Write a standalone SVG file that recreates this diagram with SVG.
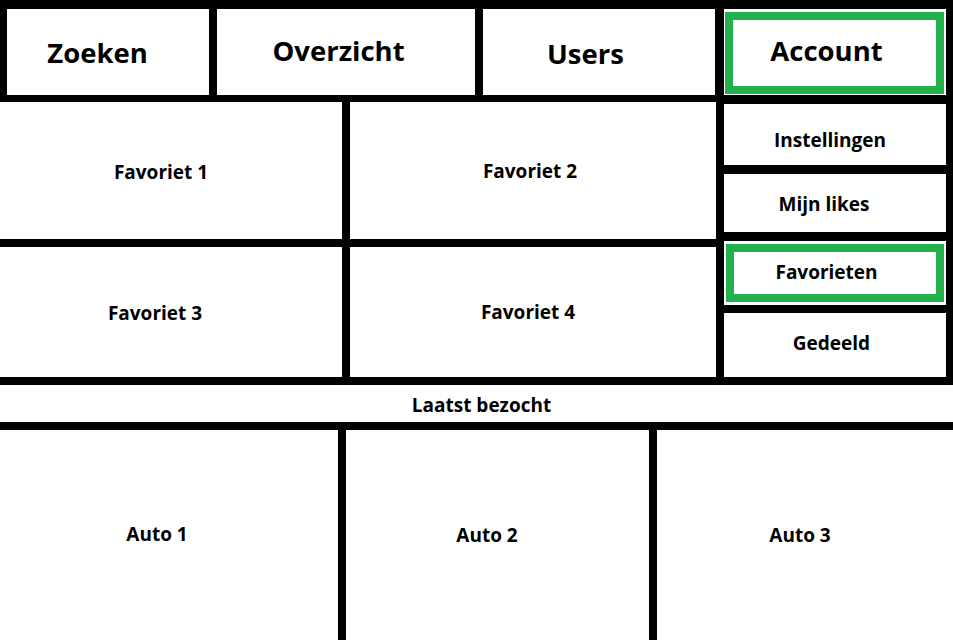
<svg xmlns="http://www.w3.org/2000/svg" width="953" height="640" viewBox="0 0 953 640">
<style>
.bar{fill:#000}
.hl{fill:none;stroke:#22b14c;stroke-width:8}
text{font-family:"Open Sans","Noto Sans","Liberation Sans",sans-serif;font-weight:bold;fill:#000;text-anchor:middle}
.big{font-size:27.5px}
.sm{font-size:19px}
</style>
<rect width="953" height="640" fill="#fff"/>
<g id="connectors">
<rect class="bar" x="0" y="0" width="953" height="9"/>
<rect class="bar" x="0" y="0" width="7" height="102"/>
<rect class="bar" x="0" y="95" width="953" height="7"/>
<rect class="bar" x="716" y="95" width="237" height="9"/>
<rect class="bar" x="209" y="0" width="8" height="102"/>
<rect class="bar" x="475" y="0" width="8" height="102"/>
<rect class="bar" x="715" y="0" width="9" height="102"/>
<rect class="bar" x="946" y="0" width="7" height="385"/>
<rect class="bar" x="716" y="95" width="8" height="290"/>
<rect class="bar" x="716" y="165" width="237" height="9"/>
<rect class="bar" x="716" y="232" width="237" height="9"/>
<rect class="bar" x="716" y="305" width="237" height="8"/>
<rect class="bar" x="342" y="102" width="8" height="283"/>
<rect class="bar" x="0" y="239" width="716" height="8"/>
<rect class="bar" x="0" y="377" width="953" height="8"/>
<rect class="bar" x="0" y="422" width="953" height="8"/>
<rect class="bar" x="338" y="430" width="8" height="210"/>
<rect class="bar" x="649" y="430" width="8" height="210"/>
</g>
<g id="zoeken"><text class="big" x="97.5" y="63">Zoeken</text></g>
<g id="overzicht"><text class="big" x="338.5" y="61">Overzicht</text></g>
<g id="users"><text class="big" x="585.5" y="64">Users</text></g>
<g id="account"><rect class="hl" x="729" y="16" width="211" height="74"/><text class="big" x="826.5" y="61">Account</text></g>
<g id="instellingen"><text class="sm" x="830" y="147">Instellingen</text></g>
<g id="mijnlikes"><text class="sm" x="824" y="211">Mijn likes</text></g>
<g id="favorieten"><rect class="hl" x="730" y="248" width="210" height="50"/><text class="sm" x="826.5" y="279">Favorieten</text></g>
<g id="gedeeld"><text class="sm" x="831.5" y="350">Gedeeld</text></g>
<g id="fav1"><text class="sm" x="161" y="179">Favoriet 1</text></g>
<g id="fav2"><text class="sm" x="530" y="178">Favoriet 2</text></g>
<g id="fav3"><text class="sm" x="155" y="320">Favoriet 3</text></g>
<g id="fav4"><text class="sm" x="528" y="319">Favoriet 4</text></g>
<g id="laatst"><text class="sm" x="481.5" y="412">Laatst bezocht</text></g>
<g id="auto1"><text class="sm" x="157" y="541">Auto 1</text></g>
<g id="auto2"><text class="sm" x="487" y="542">Auto 2</text></g>
<g id="auto3"><text class="sm" x="800" y="542">Auto 3</text></g>
</svg>
